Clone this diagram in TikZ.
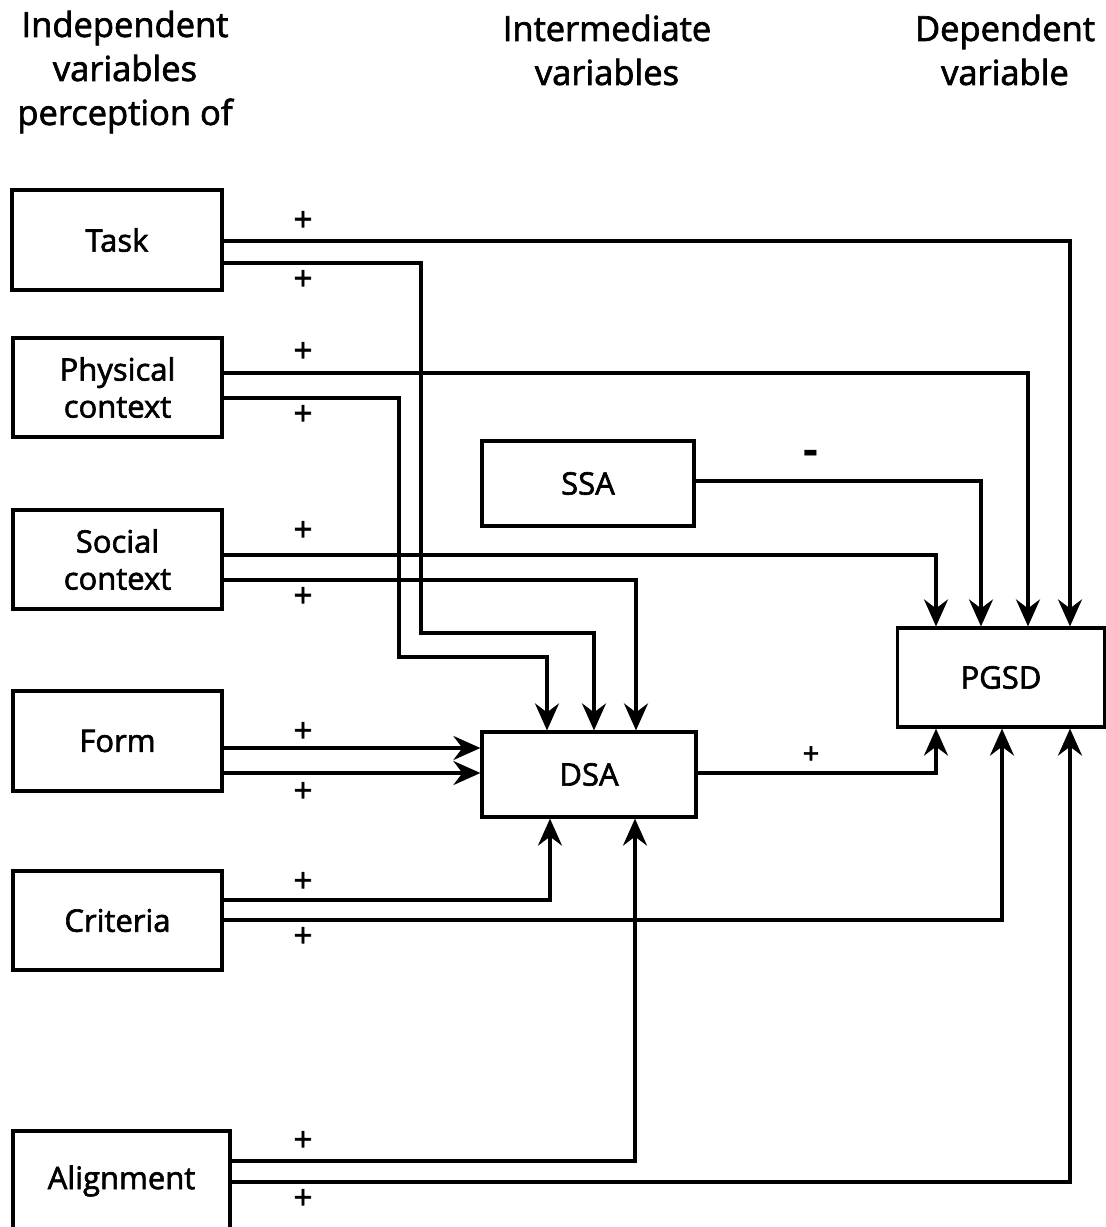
\documentclass[tikz,border=0pt]{standalone}
\usepackage{fontspec}
\setmainfont{Open Sans}
\newfontfamily\semib{Open Sans}[FakeBold=2]
\usetikzlibrary{arrows.meta}
\tikzset{
  box/.style={draw, line width=3.2pt, inner sep=0pt, font=\semib\fontsize{31}{37}\selectfont, align=center},
  head/.style={inner sep=0pt, align=center, font=\semib\fontsize{34.5}{44}\selectfont},
  pl/.style={inner sep=0pt, font=\semib\fontsize{33}{33}\selectfont},
  arr/.style={line width=3.2pt, -{Stealth[length=27pt, width=24pt, inset=9pt]}}
}
\begin{document}
\begin{tikzpicture}[x=1pt, y=-1pt]
\clip (0,0) rectangle (1106,1227);
\fill[white] (0,0) rectangle (1106,1227);
% headings
\node[head] (h1) at (125,72) {Independent\\variables\\perception of};
\node[head] (h2) at (607,50) {Intermediate\\variables};
\node[head] (h3) at (1005,50) {Dependent\\variable};
% boxes
\node[box, minimum width=210pt, minimum height=100pt] (task) at (117,240) {Task};
\node[box, minimum width=209pt, minimum height=99pt] (phys) at (117.5,387.5) {Physical\\context};
\node[box, minimum width=209pt, minimum height=99pt] (soc) at (117.5,559.5) {Social\\context};
\node[box, minimum width=209pt, minimum height=100pt] (form) at (117.5,741) {Form};
\node[box, minimum width=209pt, minimum height=99pt] (crit) at (117.5,920.5) {Criteria};
\node[box, minimum width=217pt, minimum height=100pt] (align) at (121.5,1181) {Alignment};
\node[box, minimum width=212pt, minimum height=85pt] (ssa) at (588,483.5) {SSA};
\node[box, minimum width=214pt, minimum height=85pt] (dsa) at (589,774.5) {DSA};
\node[box, minimum width=207pt, minimum height=99pt] (pgsd) at (1001,677.5) {PGSD};
% connectors
\draw[arr] (task.east |- 0,241) -- (1070,241) -- (1070,0 |- pgsd.north);
\draw[arr] (task.east |- 0,263) -- (421,263) -- (421,633) -- (594,633) -- (594,0 |- dsa.north);
\draw[arr] (phys.east |- 0,373) -- (1028,373) -- (1028,0 |- pgsd.north);
\draw[arr] (phys.east |- 0,398) -- (399,398) -- (399,657) -- (547,657) -- (547,0 |- dsa.north);
\draw[arr] (soc.east |- 0,555) -- (936,555) -- (936,0 |- pgsd.north);
\draw[arr] (soc.east |- 0,580) -- (636,580) -- (636,0 |- dsa.north);
\draw[arr] (ssa.east |- 0,481) -- (981,481) -- (981,0 |- pgsd.north);
\draw[arr] (form.east |- 0,748) -- (dsa.west |- 0,748);
\draw[arr] (form.east |- 0,773) -- (dsa.west |- 0,773);
\draw[arr] (dsa.east |- 0,773) -- (936,773) -- (936,0 |- pgsd.south);
\draw[arr] (crit.east |- 0,900) -- (550,900) -- (550,0 |- dsa.south);
\draw[arr] (crit.east |- 0,920) -- (1002,920) -- (1002,0 |- pgsd.south);
\draw[arr] (align.east |- 0,1161) -- (635,1161) -- (635,0 |- dsa.south);
\draw[arr] (align.east |- 0,1182) -- (1070,1182) -- (1070,0 |- pgsd.south);
% signs
\node[pl] (p1) at (303,221) {+};
\node[pl] (p2) at (303,280) {+};
\node[pl] (p3) at (303,352) {+};
\node[pl] (p4) at (303,415) {+};
\node[pl] (p5) at (303,531) {+};
\node[pl] (p6) at (303,597) {+};
\node[pl] (p7) at (303,732) {+};
\node[pl] (p8) at (303,792) {+};
\node[pl, font=\semib\fontsize{29}{29}\selectfont] (p9) at (811,755) {+};
\node[pl] (p10) at (303,882) {+};
\node[pl] (p11) at (303,937) {+};
\node[pl] (p12) at (303,1141) {+};
\node[pl] (p13) at (303,1199) {+};
\node[inner sep=0pt, font=\bfseries\fontsize{46}{46}\selectfont] (m1) at (811,458) {-};
\end{tikzpicture}
\end{document}
